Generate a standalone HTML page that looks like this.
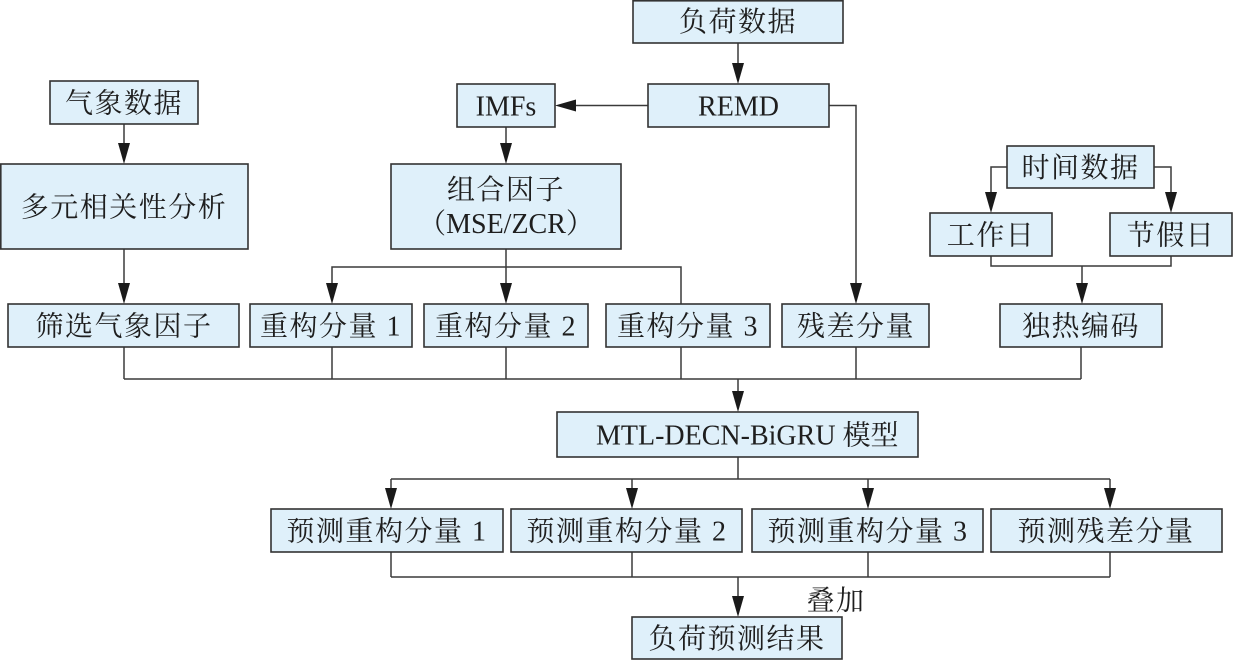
<!DOCTYPE html>
<html><head><meta charset="utf-8"><style>
html,body{margin:0;padding:0;background:#fff;}
svg{display:block;}
svg text{font-family:"Liberation Serif","Noto Serif CJK SC","Noto Serif CJK JP",serif;font-size:28px;fill:#1e1e1e;}
</style></head><body>
<svg width="1233" height="661" viewBox="0 0 1233 661" xmlns="http://www.w3.org/2000/svg" font-family="'Liberation Serif', 'Noto Serif CJK SC', serif" font-size="28">
<defs>
<polygon id="ad" points="0,0 -6,-21 6,-21" fill="#1a1a1a"/>
</defs>
<g fill="none" stroke="#3a3a3a" stroke-width="1.5">
<line x1="738" y1="43" x2="738" y2="70"/>
<line x1="648" y1="105.5" x2="570" y2="105.5"/>
<polyline points="829,105.5 856,105.5 856,290"/>
<line x1="124" y1="124" x2="124" y2="150"/>
<line x1="124" y1="249" x2="124" y2="290"/>
<line x1="506" y1="127" x2="506" y2="150"/>
<line x1="506" y1="249" x2="506" y2="290"/>
<polyline points="332,290 332,267 681,267 681,304"/>
<polyline points="1007,167 991,167 991,200"/>
<polyline points="1154,167 1171,167 1171,200"/>
<polyline points="991,256 991,266 1171,266 1171,256"/>
<line x1="1082" y1="266" x2="1082" y2="290"/>
<line x1="124" y1="347" x2="124" y2="379"/>
<line x1="332" y1="347" x2="332" y2="379"/>
<line x1="506" y1="347" x2="506" y2="379"/>
<line x1="681" y1="347" x2="681" y2="379"/>
<line x1="856" y1="347" x2="856" y2="379"/>
<line x1="1081" y1="347" x2="1081" y2="379"/>
<line x1="124" y1="379" x2="1081" y2="379"/>
<line x1="738" y1="379" x2="738" y2="400"/>
<line x1="738" y1="457" x2="738" y2="479"/>
<line x1="391" y1="479" x2="1110" y2="479"/>
<line x1="391" y1="479" x2="391" y2="495"/>
<line x1="632" y1="479" x2="632" y2="495"/>
<line x1="868" y1="479" x2="868" y2="495"/>
<line x1="1110" y1="479" x2="1110" y2="495"/>
<line x1="391" y1="552" x2="391" y2="577"/>
<line x1="632" y1="552" x2="632" y2="577"/>
<line x1="868" y1="552" x2="868" y2="577"/>
<line x1="1110" y1="552" x2="1110" y2="577"/>
<line x1="391" y1="577" x2="1110" y2="577"/>
<line x1="738" y1="577" x2="738" y2="600"/>
</g>
<use href="#ad" x="738" y="84"/>
<polygon points="555,105.5 576,99.5 576,111.5" fill="#1a1a1a"/>
<use href="#ad" x="856" y="304"/>
<use href="#ad" x="124" y="164"/>
<use href="#ad" x="124" y="304"/>
<use href="#ad" x="506" y="164"/>
<use href="#ad" x="506" y="304"/>
<use href="#ad" x="332" y="304"/>
<use href="#ad" x="991" y="213"/>
<use href="#ad" x="1171" y="213"/>
<use href="#ad" x="1082" y="304"/>
<use href="#ad" x="738" y="412"/>
<use href="#ad" x="391" y="509"/>
<use href="#ad" x="632" y="509"/>
<use href="#ad" x="868" y="509"/>
<use href="#ad" x="1110" y="509"/>
<use href="#ad" x="738" y="617"/>
<g fill="#dff0fa" stroke="#333" stroke-width="1.6">
<rect x="633" y="0.8" width="210" height="42.2"/>
<rect x="648" y="84" width="181" height="43"/>
<rect x="457" y="84" width="98" height="43"/>
<rect x="50" y="81" width="148" height="43"/>
<rect x="0.8" y="164" width="247.2" height="85"/>
<rect x="391" y="164" width="230" height="85"/>
<rect x="1007" y="146" width="147" height="42"/>
<rect x="930" y="213" width="122" height="43"/>
<rect x="1110" y="213" width="122" height="43"/>
<rect x="8" y="304" width="231" height="43"/>
<rect x="250" y="304" width="162" height="43"/>
<rect x="424" y="304" width="164" height="43"/>
<rect x="606" y="304" width="164" height="43"/>
<rect x="782" y="304" width="147" height="43"/>
<rect x="1000" y="304" width="162" height="43"/>
<rect x="557" y="412" width="361" height="45"/>
<rect x="271" y="509" width="232" height="43"/>
<rect x="511" y="509" width="231" height="43"/>
<rect x="752" y="509" width="231" height="43"/>
<rect x="991" y="509" width="231" height="43"/>
<rect x="632" y="617" width="210" height="42"/>
</g>
<g text-anchor="middle" letter-spacing="1.5">
<text x="738" y="31">负荷数据</text>
<text x="738.5" y="115.5" letter-spacing="0">REMD</text>
<text x="506" y="115.5" letter-spacing="0">IMFs</text>
<text x="124" y="112.5">气象数据</text>
<text x="124" y="216.5">多元相关性分析</text>
<text x="506" y="199">组合因子</text>
<text x="506" y="233" letter-spacing="0">（MSE/ZCR）</text>
<text x="1080.5" y="177">时间数据</text>
<text x="991" y="244.5">工作日</text>
<text x="1171" y="244.5">节假日</text>
<text x="124" y="335.5">筛选气象因子</text>
<text x="331" y="335.5">重构分量 1</text>
<text x="506" y="335.5">重构分量 2</text>
<text x="688" y="335.5">重构分量 3</text>
<text x="856" y="335.5">残差分量</text>
<text x="1081" y="335.5">独热编码</text>
<text x="387" y="540.5">预测重构分量 1</text>
<text x="627" y="540.5">预测重构分量 2</text>
<text x="868" y="540.5">预测重构分量 3</text>
<text x="1106" y="540.5">预测残差分量</text>
<text x="737" y="648">负荷预测结果</text>
<text x="836" y="610">叠加</text>
</g>
<text x="596" y="444.5">MTL-DECN-BiGRU 模型</text>
</svg>
</body></html>
